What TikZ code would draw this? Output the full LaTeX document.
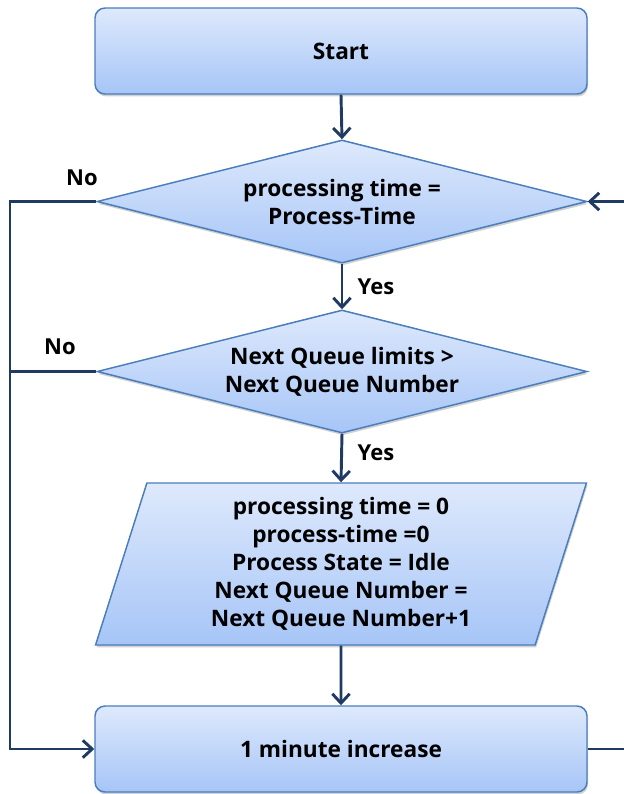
\documentclass[tikz,border=0pt]{standalone}
\usepackage{fontspec}
\setmainfont{Open Sans}
\usetikzlibrary{shapes.geometric,arrows.meta,shadows}
\definecolor{edgeblue}{HTML}{4A7EBB}
\definecolor{topfill}{HTML}{DEE9FC}
\definecolor{botfill}{HTML}{A6C5F7}
\definecolor{linenavy}{HTML}{1F3B63}
\begin{document}
\begin{tikzpicture}[x=0.75pt,y=-0.75pt,
  every node/.style={font=\fontsize{17}{21}\selectfont\bfseries, text=black},
  shapebase/.style={draw=edgeblue, line width=1.1pt, top color=topfill, bottom color=botfill,
    drop shadow={shadow xshift=0.8pt, shadow yshift=-1.8pt, opacity=0.3, fill=black!60}},
  termbox/.style={shapebase, rectangle, rounded corners=7.5pt, minimum width=369pt, minimum height=64.5pt, inner sep=0pt},
  decision/.style={shapebase, diamond, aspect=3.98, minimum width=367.5pt, minimum height=92.25pt, inner sep=0pt, align=center},
  iobox/.style={shapebase, trapezium, trapezium left angle=75.5, trapezium right angle=104.5, trapezium stretches=true,
    minimum width=369pt, minimum height=121.5pt, inner sep=0pt, align=center},
  wire/.style={draw=linenavy, line width=2.2pt},
  flow/.style={wire, -{Straight Barb[length=7pt,width=13pt]}},
  lbl/.style={font=\fontsize{16.5}{18}\selectfont\bfseries}
]
\useasboundingbox (0,0) rectangle (624,794);
\node[termbox] (start) at (341,51) {Start};
\node[decision] (d1) at (342,201.5) {processing time =\\Process-Time};
\node[decision] (d2) at (342,371.5) {Next Queue limits \textgreater\\Next Queue Number};
\node[iobox] (proc) at (341,564) {processing time = 0\\process-time =0\\Process State = Idle\\Next Queue Number =\\Next Queue Number+1};
\node[termbox] (inc) at (341,749) {1 minute increase};

\coordinate (lefttop) at (10,201.5);
\coordinate (rightin) at (628,201.5);
\coordinate (rightout) at (628,749);

\draw[flow] (start.south) -- (d1.north);
\draw[flow] (d1.south) -- (d2.north);
\draw[flow] (d2.south) -- (proc.north);
\draw[flow] (proc.south) -- (inc.north);
\draw[flow] (d1.west) -- (lefttop) |- (inc.west);
\draw[wire] (d2.west) -- (d2.west -| lefttop);
\draw[flow] (rightin) -- (d1.east);
\draw[wire] (inc.east) -- (rightout);

\node[lbl] (no1) at (82,178) {No};
\node[lbl] (no2) at (60,347) {No};
\node[lbl] (yes1) at (376,287) {Yes};
\node[lbl] (yes2) at (376,453) {Yes};
\end{tikzpicture}
\end{document}
